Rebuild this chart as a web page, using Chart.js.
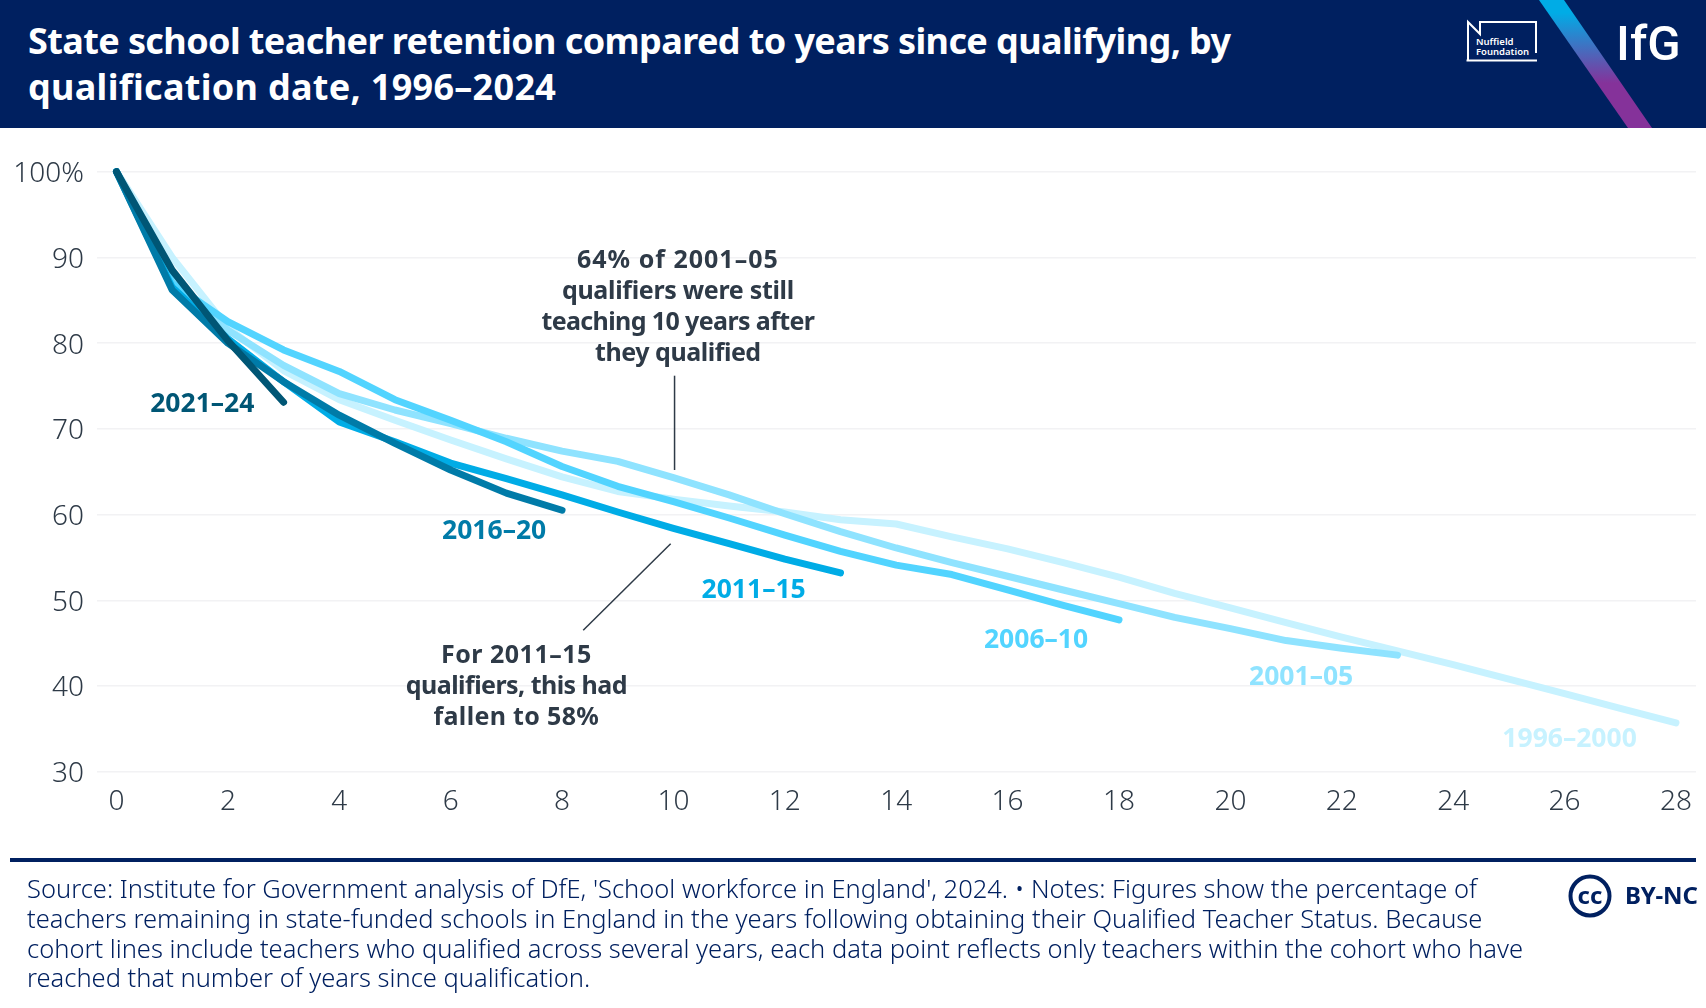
<!DOCTYPE html>
<html>
<head>
<meta charset="utf-8">
<title>Teacher retention</title>
<script src="https://cdn.jsdelivr.net/npm/chart.js@4"></script>
<style>
body { margin: 0; background: #fff; font-family: "Noto Sans", sans-serif; width: 1706px; height: 1008px; overflow: hidden; position: relative; }
#chart { position: absolute; left: 0; top: 0; }
#header { position: absolute; left: 0; top: 0; width: 1706px; height: 128px; background: #002060; }
#title { position: absolute; left: 28px; top: 17.500px; color: #fff; font-weight: 700; font-size: 36px; line-height: 46px; white-space: nowrap; }
#title .first { letter-spacing: -0.6px; }
#title .second { letter-spacing: 0.3px; }
#logos { position: absolute; left: 0; top: 0; }
#rule { position: absolute; left: 10px; top: 858px; width: 1686px; height: 4px; background: #002060; }
#source { position: absolute; left: 27px; top: 874px; color: #002060; font-weight: 300; font-size: 25.500px; line-height: 29.800px; white-space: nowrap; }
</style>
</head>
<body>
<canvas id="chart" width="1706" height="1008"></canvas>
<div id="header">
  <div id="title"><span class="first">State school teacher retention compared to years since qualifying, by</span><br><span class="second">qualification date, 1996–2024</span></div>
  <svg id="logos" width="1706" height="128">
    <defs>
      <linearGradient id="stripe" x1="0" y1="0" x2="0" y2="128" gradientUnits="userSpaceOnUse">
        <stop offset="0.1" stop-color="#00ace6"/>
        <stop offset="0.65" stop-color="#85329a"/>
      </linearGradient>
    </defs>
    <polygon points="1539,0 1564,0 1652,128 1628,128" fill="url(#stripe)"/>
    <path d="M1468 60.500 V22 L1480 34 V22 H1536 V53 M1466.500 60.500 H1537" fill="none" stroke="#fff" stroke-width="2"/>
    <text x="1476" y="45" fill="#fff" font-size="9.500" font-weight="600" font-family="Noto Sans">Nuffield</text>
    <text x="1476" y="54.500" fill="#fff" font-size="9.500" font-weight="600" font-family="Noto Sans">Foundation</text>
    <text x="1616" y="60" fill="#fff" font-size="49" font-weight="500" font-family="Roboto">IfG</text>
  </svg>
</div>
<div id="rule"></div>
<div id="source">Source: Institute for Government analysis of DfE, 'School workforce in England', 2024. • Notes: Figures show the percentage of<br>teachers remaining in state-funded schools in England in the years following obtaining their Qualified Teacher Status. Because<br>cohort lines include teachers who qualified across several years, each data point reflects only teachers within the cohort who have<br>reached that number of years since qualification.</div>
<svg style="position:absolute;left:1560px;top:870px" width="146" height="52">
  <circle cx="30" cy="26" r="19.500" fill="none" stroke="#002060" stroke-width="4"/>
  <text x="30" y="33.500" text-anchor="middle" fill="#002060" font-size="24" font-weight="700" font-family="Noto Sans">cc</text>
  <text x="65" y="34" fill="#002060" font-size="24" font-weight="700" font-family="Noto Sans" letter-spacing="-0.2">BY-NC</text>
</svg>
<script>
// values (% still teaching, by years since qualifying)
const years = [0, 1, 2, 3, 4, 5, 6, 7, 8, 9, 10, 11, 12, 13, 14, 15, 16, 17, 18, 19, 20, 21, 22, 23, 24, 25, 26, 27, 28];
const cohort1996 = [100, 90, 81.8, 76.8, 73.4, 71, 68.7, 66.5, 64.4, 62.7, 61.8, 61, 60.3, 59.4, 58.9, 57.4, 56, 54.4, 52.7, 50.8, 49.1, 47.4, 45.7, 44.1, 42.5, 40.8, 39.1, 37.4, 35.7];
const cohort2001 = [100, 87.5, 81.5, 77.4, 74.1, 72.2, 70.6, 68.9, 67.4, 66.2, 64.3, 62.3, 60.1, 58, 56.1, 54.4, 52.8, 51.2, 49.6, 48, 46.7, 45.3, 44.4, 43.6];
const cohort2006 = [100, 87, 82.5, 79.2, 76.7, 73.4, 71, 68.5, 65.6, 63.3, 61.5, 59.6, 57.6, 55.7, 54.1, 53, 51.2, 49.4, 47.7];
const cohort2011 = [100, 86.5, 80.5, 75.5, 70.8, 68.5, 66, 64.2, 62.3, 60.3, 58.4, 56.6, 54.8, 53.2];
const cohort2016 = [100, 86.2, 80, 75.5, 71.6, 68.3, 65.2, 62.5, 60.5];
const cohort2021 = [100, 88.5, 80.3, 73.1];

const xTicks = [0, 2, 4, 6, 8, 10, 12, 14, 16, 18, 20, 22, 24, 26, 28];
const yTicks = [30, 40, 50, 60, 70, 80, 90, 100];

const LIGHT = '#c7f2ff', PALE = '#8fe3ff', SKY = '#52d4ff', BLUE = '#00ace6', TEAL = '#007ba8', DARK = '#005675';
const INK = '#2e3a47';

function points(values) {
    return values.map((v, i) => ({ x: years[i], y: v }));
}

function lineSet(label, values, colour, order) {
    return {
        label: label,
        data: points(values),
        borderColor: colour,
        borderWidth: 7,
        borderCapStyle: 'round',
        borderJoinStyle: 'round',
        pointRadius: 0,
        tension: 0,
        clip: false,
        order: order
    };
}

// cohort names and notes, placed in data units so they move with the scales
const cohortLabels = [
    { text: '2021–24', x: 1.54, y: 72.8, colour: DARK },
    { text: '2016–20', x: 6.78, y: 58, colour: TEAL },
    { text: '2011–15', x: 11.44, y: 51.1, colour: BLUE },
    { text: '2006–10', x: 16.51, y: 45.3, colour: SKY },
    { text: '2001–05', x: 21.27, y: 41, colour: PALE },
    { text: '1996–2000', x: 26.09, y: 33.8, colour: LIGHT }
];
const notes = [
    { lines: ['64% of 2001–05', 'qualifiers were still', 'teaching 10 years after', 'they qualified'], spacing: [1, -0.31, -0.61, -0.47], x: 10.08, y: 89.55 },
    { lines: ['For 2011–15', 'qualifiers, this had', 'fallen to 58%'], spacing: [0.5, -0.54, 0.33], x: 7.18, y: 43.55 }
];
const leaders = [
    { from: [10.02, 76.2], to: [10.02, 65.2] },
    { from: [9.95, 56.6], to: [8.38, 46.5] }
];

const annotations = {
    id: 'annotations',
    afterDatasetsDraw(chart) {
        const { ctx, scales: { x, y } } = chart;
        ctx.save();
        ctx.textAlign = 'center';
        ctx.textBaseline = 'middle';
        ctx.font = '700 26.5px "Noto Sans"';
        cohortLabels.forEach(l => {
            ctx.fillStyle = l.colour;
            ctx.fillText(l.text, x.getPixelForValue(l.x), y.getPixelForValue(l.y));
        });
        ctx.font = '700 25px "Noto Sans"';
        ctx.fillStyle = INK;
        notes.forEach(n => {
            n.lines.forEach((line, i) => {
                ctx.letterSpacing = n.spacing[i] + 'px';
                ctx.fillText(line, x.getPixelForValue(n.x), y.getPixelForValue(n.y) + i * 31);
            });
        });
        ctx.letterSpacing = '0px';
        ctx.strokeStyle = INK;
        ctx.lineWidth = 1.5;
        leaders.forEach(l => {
            ctx.beginPath();
            ctx.moveTo(x.getPixelForValue(l.from[0]), y.getPixelForValue(l.from[1]));
            ctx.lineTo(x.getPixelForValue(l.to[0]), y.getPixelForValue(l.to[1]));
            ctx.stroke();
        });
        ctx.restore();
    }
};

new Chart(document.getElementById('chart'), {
    type: 'line',
    data: {
        datasets: [
            lineSet('1996–2000', cohort1996, LIGHT, 6),
            lineSet('2001–05', cohort2001, PALE, 5),
            lineSet('2006–10', cohort2006, SKY, 4),
            lineSet('2011–15', cohort2011, BLUE, 3),
            lineSet('2016–20', cohort2016, TEAL, 2),
            lineSet('2021–24', cohort2021, DARK, 1)
        ]
    },
    options: {
        responsive: false,
        animation: false,
        layout: { padding: { left: 0, right: 10, top: 171.7, bottom: 176.3 } },
        plugins: { legend: { display: false }, tooltip: { enabled: false } },
        scales: {
            x: {
                type: 'linear',
                min: -0.35,
                max: 28.36,
                afterBuildTicks(scale) { scale.ticks = xTicks.map(v => ({ value: v })); },
                afterFit(scale) { scale.height = 60; },
                grid: { display: false },
                border: { display: false },
                ticks: { color: INK, font: { family: 'Noto Sans', size: 28, weight: 300 }, padding: 6, maxRotation: 0, autoSkip: false }
            },
            y: {
                min: 30,
                max: 100,
                afterBuildTicks(scale) { scale.ticks = yTicks.map(v => ({ value: v })); },
                afterFit(scale) { scale.width = 97; },
                grid: { color: '#f2f2f4', lineWidth: 1.5, drawTicks: false },
                border: { display: false },
                ticks: {
                    color: INK,
                    // the blank first line nudges the number down by lineHeight / 2
                    font: { family: 'Noto Sans', size: 28, weight: 300, lineHeight: '5px' },
                    padding: 13,
                    callback: v => ['', v === 100 ? '100%' : String(v)]
                }
            }
        }
    },
    plugins: [annotations]
});
</script>
</body>
</html>
